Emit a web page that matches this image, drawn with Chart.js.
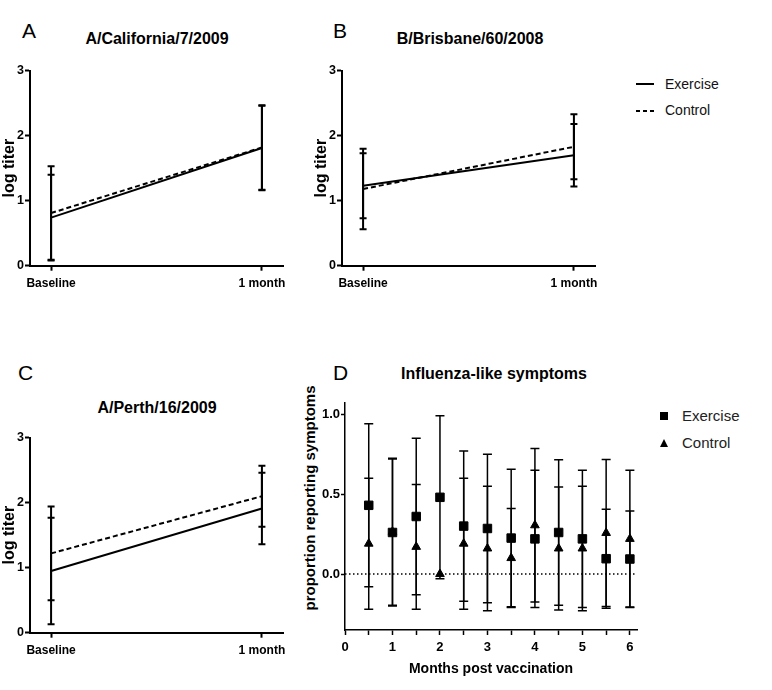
<!DOCTYPE html>
<html>
<head>
<meta charset="utf-8">
<script src="https://cdn.jsdelivr.net/npm/chart.js@4.4.0/dist/chart.umd.min.js"></script>
<style>
  body { margin: 0; background: #fff; }
  #page { position: relative; width: 772px; height: 690px; overflow: hidden; font-family: "Liberation Sans", Arial, sans-serif; color: #000; }
  canvas { position: absolute; }
  .letter { position: absolute; font-size: 21px; line-height: 20px; }
  .title { position: absolute; width: 260px; text-align: center; font-size: 16px; font-weight: bold; line-height: 20px; }
  .ytitle { position: absolute; width: 260px; text-align: center; font-size: 15px; font-weight: bold; line-height: 16px; transform: rotate(-90deg); transform-origin: center center; }
  .leg { position: absolute; font-size: 14px; line-height: 18px; color: #111; white-space: nowrap; }
  .leg2 { position: absolute; font-size: 15px; line-height: 18px; color: #222; white-space: nowrap; }
  .sq { position: absolute; width: 8px; height: 8px; background: #000; }
  .tri { position: absolute; width: 0; height: 0; border-left: 4.5px solid transparent; border-right: 4.5px solid transparent; border-bottom: 8px solid #000; }
  svg { position: absolute; }
</style>
</head>
<body>
<div id="page">
  <div class="letter" style="left:22px;top:21px">A</div>
  <div class="letter" style="left:333px;top:21px">B</div>
  <div class="letter" style="left:18px;top:363px">C</div>
  <div class="letter" style="left:333px;top:363px">D</div>

  <div class="title" style="left:27px;top:29px">A/California/7/2009</div>
  <div class="title" style="left:340px;top:29px">B/Brisbane/60/2008</div>
  <div class="title" style="left:27px;top:398px">A/Perth/16/2009</div>
  <div class="title" style="left:364px;top:364px">Influenza-like symptoms</div>
  <!-- y title of panel D sits higher than the axis centre, so it is placed by hand -->
  <div class="ytitle" style="left:180px;top:490px">proportion reporting symptoms</div>

  <canvas id="chartA" width="300" height="300" style="left:0;top:0"></canvas>
  <canvas id="chartB" width="300" height="300" style="left:312px;top:0"></canvas>
  <canvas id="chartC" width="300" height="300" style="left:0;top:367px"></canvas>
  <canvas id="chartD" width="350" height="310" style="left:300px;top:380px"></canvas>

  <!-- legend for the titer panels -->
  <svg width="20" height="4" style="left:636px;top:82px"><line x1="0" y1="2" x2="18" y2="2" stroke="#000" stroke-width="2"/></svg>
  <div class="leg" style="left:665px;top:75px">Exercise</div>
  <svg width="20" height="4" style="left:636px;top:109px"><line x1="0" y1="2" x2="18" y2="2" stroke="#000" stroke-width="2" stroke-dasharray="4,3"/></svg>
  <div class="leg" style="left:665px;top:101px">Control</div>

  <!-- legend for the symptom panel -->
  <div class="sq" style="left:660px;top:412px"></div>
  <div class="leg2" style="left:682px;top:407px">Exercise</div>
  <div class="tri" style="left:659.5px;top:439px"></div>
  <div class="leg2" style="left:682px;top:434px">Control</div>
</div>

<script>
// Titer panels
const titerLabels = ["Baseline", "1 month"];
const titerTicks = [0, 1, 2, 3];

// A/California/7/2009
const caExercise = [0.74, 1.81];
const caExerciseSd = [0.66, 0.65];
const caControl = [0.81, 1.82];
const caControlSd = [0.72, 0.65];

// B/Brisbane/60/2008
const brExercise = [1.23, 1.70];
const brExerciseSd = [0.50, 0.48];
const brControl = [1.18, 1.83];
const brControlSd = [0.62, 0.50];

// A/Perth/16/2009
const peExercise = [0.95, 1.91];
const peExerciseSd = [0.82, 0.55];
const peControl = [1.22, 2.10];
const peControlSd = [0.72, 0.47];

// Influenza-like symptoms
const months = [0.5, 1, 1.5, 2, 2.5, 3, 3.5, 4, 4.5, 5, 5.5, 6];
const monthTicks = [0, 0.5, 1, 1.5, 2, 2.5, 3, 3.5, 4, 4.5, 5, 5.5, 6];
const symExercise = [0.43, 0.26, 0.36, 0.48, 0.30, 0.285, 0.225, 0.22, 0.26, 0.22, 0.096, 0.094];
const symExerciseSd = [0.51, 0.46, 0.49, 0.51, 0.47, 0.465, 0.43, 0.43, 0.455, 0.43, 0.31, 0.30];
const symControl = [0.19, 0.265, 0.17, 0, 0.19, 0.16, 0.10, 0.305, 0.16, 0.16, 0.257, 0.22];
const symControlSd = [0.41, 0.46, 0.39, 0, 0.41, 0.39, 0.31, 0.48, 0.385, 0.39, 0.46, 0.43];
const symTicks = [0, 0.5, 1];

Chart.defaults.font.family = '"Liberation Sans", Arial, sans-serif';
Chart.defaults.color = "#000";

// draws mean +/- sd whiskers from the dataset "errors" array
const errorBars = {
  id: "errorBars",
  afterDatasetsDraw(chart, args, opts) {
    const ctx = chart.ctx;
    const yScale = chart.scales.y;
    ctx.save();
    ctx.strokeStyle = "#000";
    ctx.lineWidth = opts.width;
    chart.data.datasets.forEach((ds, i) => {
      if (!ds.errors) return;
      chart.getDatasetMeta(i).data.forEach((pt, j) => {
        const v = ds.data[j].y;
        const e = ds.errors[j];
        if (!e) return;
        const top = yScale.getPixelForValue(v + e);
        const bot = yScale.getPixelForValue(v - e);
        ctx.beginPath();
        ctx.moveTo(pt.x, top);
        ctx.lineTo(pt.x, bot);
        ctx.moveTo(pt.x - opts.cap, top);
        ctx.lineTo(pt.x + opts.cap, top);
        ctx.moveTo(pt.x - opts.cap, bot);
        ctx.lineTo(pt.x + opts.cap, bot);
        ctx.stroke();
      });
    });
    ctx.restore();
  },
};

// dotted reference line at y = 0
const zeroLine = {
  id: "zeroLine",
  beforeDatasetsDraw(chart) {
    const { ctx, chartArea, scales } = chart;
    const y = scales.y.getPixelForValue(0);
    ctx.save();
    ctx.strokeStyle = "#000";
    ctx.lineWidth = 1.5;
    ctx.setLineDash([1.5, 2.5]);
    ctx.beginPath();
    ctx.moveTo(chartArea.left, y);
    ctx.lineTo(chartArea.right, y);
    ctx.stroke();
    ctx.restore();
  },
};

function toPoints(xs, ys) {
  return ys.map((y, i) => ({ x: xs[i], y: y }));
}

function titerChart(id, ex, exSd, ct, ctSd) {
  const xs = titerLabels.map((l, i) => i);
  return new Chart(document.getElementById(id), {
    type: "line",
    data: {
      datasets: [
        { label: "Exercise", data: toPoints(xs, ex), errors: exSd, borderColor: "#000", borderWidth: 2, pointRadius: 0 },
        { label: "Control", data: toPoints(xs, ct), errors: ctSd, borderColor: "#000", borderWidth: 2, borderDash: [5, 3], pointRadius: 0 },
      ],
    },
    plugins: [errorBars],
    options: {
      responsive: false,
      animation: false,
      events: [],
      layout: { padding: { top: 70.7, right: 17, bottom: 4.3, left: 0 } },
      plugins: {
        legend: { display: false },
        tooltip: { enabled: false },
        errorBars: { width: 2, cap: 3.5 },
      },
      scales: {
        x: {
          type: "linear",
          min: -0.1,
          max: 1.1,
          afterBuildTicks: (s) => { s.ticks = xs.map((v) => ({ value: v })); },
          afterFit: (s) => { s.height = 30; },
          ticks: { callback: (v) => titerLabels[v], font: { size: 12, weight: "bold" }, padding: 6, maxRotation: 0 },
          grid: { drawOnChartArea: false, tickLength: 5, tickColor: "#000", tickWidth: 2 },
          border: { color: "#000", width: 2 },
        },
        y: {
          min: 0,
          max: 3,
          afterBuildTicks: (s) => { s.ticks = titerTicks.map((v) => ({ value: v })); },
          afterFit: (s) => { s.width = 30; },
          ticks: { font: { size: 12.5, weight: "bold" }, padding: 1 },
          grid: { drawOnChartArea: false, tickLength: 5, tickColor: "#000", tickWidth: 2 },
          border: { color: "#000", width: 2 },
          title: { display: true, text: "log titer", font: { size: 16, weight: "bold" }, padding: 0 },
        },
      },
    },
  });
}

titerChart("chartA", caExercise, caExerciseSd, caControl, caControlSd);
titerChart("chartB", brExercise, brExerciseSd, brControl, brControlSd);
titerChart("chartC", peExercise, peExerciseSd, peControl, peControlSd);

new Chart(document.getElementById("chartD"), {
  type: "scatter",
  data: {
    datasets: [
      { label: "Control", data: toPoints(months, symControl), errors: symControlSd, pointStyle: "triangle", pointRadius: 5, backgroundColor: "#000", borderColor: "#000", borderWidth: 1 },
      { label: "Exercise", data: toPoints(months, symExercise), errors: symExerciseSd, pointStyle: "rect", pointRadius: 6, backgroundColor: "#000", borderColor: "#000", borderWidth: 1 },
    ],
  },
  plugins: [zeroLine, errorBars],
  options: {
    responsive: false,
    animation: false,
    events: [],
    layout: { padding: { top: 23, right: 13, bottom: 8, left: 0 } },
    plugins: {
      legend: { display: false },
      tooltip: { enabled: false },
      errorBars: { width: 1.5, cap: 4.5 },
    },
    scales: {
      x: {
        type: "linear",
        min: 0,
        max: 6.15,
        afterBuildTicks: (s) => { s.ticks = monthTicks.map((v) => ({ value: v })); },
        afterFit: (s) => { s.height = 52; },
        ticks: { callback: (v) => (Number.isInteger(v) ? v : ""), font: { size: 13, weight: "bold" }, padding: 5, maxRotation: 0, autoSkip: false },
        grid: { drawOnChartArea: false, tickLength: 5, tickColor: "#000", tickWidth: 1.5 },
        border: { color: "#000", width: 1.5 },
        title: { display: true, text: "Months post vaccination", font: { size: 14, weight: "bold" }, padding: 4 },
      },
      y: {
        min: -0.35,
        max: 1.07,
        afterBuildTicks: (s) => { s.ticks = symTicks.map((v) => ({ value: v })); },
        afterFit: (s) => { s.width = 45; },
        ticks: { callback: (v) => v.toFixed(1), font: { size: 13, weight: "bold" }, padding: 1 },
        grid: { drawOnChartArea: false, tickLength: 4, tickColor: "#000", tickWidth: 1.5 },
        border: { color: "#000", width: 1.5 },
      },
    },
  },
});
</script>
</body>
</html>
